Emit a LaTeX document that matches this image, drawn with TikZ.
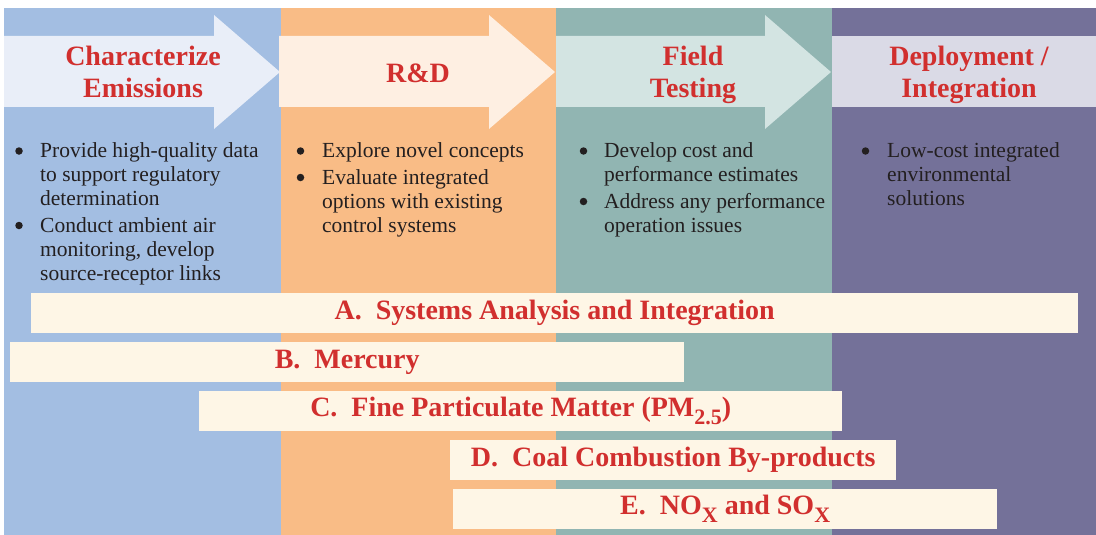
\documentclass[tikz,border=0pt]{standalone}
\usepackage{fontspec}
\setmainfont{Liberation Serif}
\definecolor{cblue}{HTML}{A3BEE2}
\definecolor{ablue}{HTML}{E9EEF8}
\definecolor{corange}{HTML}{F9BC86}
\definecolor{aorange}{HTML}{FEEFE2}
\definecolor{cteal}{HTML}{91B5B2}
\definecolor{ateal}{HTML}{D3E4E2}
\definecolor{cpurple}{HTML}{747199}
\definecolor{apurple}{HTML}{DADAE6}
\definecolor{barfill}{HTML}{FEF6E6}
\definecolor{tred}{HTML}{D12F2E}
\definecolor{tgray}{HTML}{231F20}
\newcommand{\subx}[1]{\raisebox{-8pt}{\fontsize{22}{22}\selectfont #1}}
\begin{document}
\begin{tikzpicture}[x=1pt,y=-1pt,
  colbox/.style={inner sep=0, outer sep=0, anchor=north west},
  ttl/.style={font=\fontsize{28}{32}\selectfont\bfseries, text=tred, anchor=base, inner sep=0},
  barbox/.style={fill=barfill, font=\fontsize{28}{32}\selectfont\bfseries, text=tred, inner sep=0, anchor=north west, minimum height=40pt},
  bul/.style={font=\fontsize{21.5}{24.2}\selectfont, text=tgray, anchor=base west, inner sep=0},
  dot/.style={circle, fill=tgray, inner sep=0, minimum size=7.5pt},
]
\useasboundingbox (0,0) rectangle (1096,535);
% columns
\node[colbox, fill=cblue, minimum width=277pt, minimum height=527pt] (c1) at (4,8) {};
\node[colbox, fill=corange, minimum width=275pt, minimum height=527pt] (c2) at (281,8) {};
\node[colbox, fill=cteal, minimum width=276pt, minimum height=527pt] (c3) at (556,8) {};
\node[colbox, fill=cpurple, minimum width=264pt, minimum height=527pt] (c4) at (832,8) {};
% arrows
\fill[ablue] (4,36) -- (214,36) -- (214,15) -- (280,72) -- (214,129) -- (214,107) -- (4,107) -- cycle;
\fill[aorange] (279,36) -- (489,36) -- (489,15) -- (555,72) -- (489,129) -- (489,107) -- (279,107) -- cycle;
\fill[ateal] (556,36) -- (765,36) -- (765,15) -- (831,72) -- (765,129) -- (765,107) -- (556,107) -- cycle;
\fill[apurple] (832,36) rectangle (1096,107);
% titles
\node[ttl] (t1a) at (143,66) {Characterize};
\node[ttl] (t1b) at (143,98) {Emissions};
\node[ttl] (t2) at (418,82) {R\&D};
\node[ttl] (t3a) at (693,66) {Field};
\node[ttl] (t3b) at (693,98) {Testing};
\node[ttl] (t4a) at (969,66) {Deployment /};
\node[ttl] (t4b) at (969,98) {Integration};
% bullets column 1
\node[dot] (b11) at (19,151) {};
\node[bul] (i11) at (40,157.5) {\begin{tabular}[t]{@{}l@{}}Provide high-quality data\\to support regulatory\\determination\end{tabular}};
\node[dot] (b12) at (19,225.5) {};
\node[bul] (i12) at (40,232) {\begin{tabular}[t]{@{}l@{}}Conduct ambient air\\monitoring, develop\\source-receptor links\end{tabular}};
% bullets column 2
\node[dot] (b21) at (300.5,151) {};
\node[bul] (i21) at (322,157.5) {Explore novel concepts};
\node[dot] (b22) at (300.5,177.5) {};
\node[bul] (i22) at (322,184) {\begin{tabular}[t]{@{}l@{}}Evaluate integrated\\options with existing\\control systems\end{tabular}};
% bullets column 3
\node[dot] (b31) at (583.5,151) {};
\node[bul] (i31) at (604,157.5) {\begin{tabular}[t]{@{}l@{}}Develop cost and\\performance estimates\end{tabular}};
\node[dot] (b32) at (583.5,201.5) {};
\node[bul] (i32) at (604,208) {\begin{tabular}[t]{@{}l@{}}Address any performance\\operation issues\end{tabular}};
% bullets column 4
\node[dot] (b41) at (865.5,151) {};
\node[bul] (i41) at (887,157.5) {\begin{tabular}[t]{@{}l@{}}Low-cost integrated\\environmental\\solutions\end{tabular}};
% bars
\node[barbox, minimum width=1047pt] (bA) at (31,293) {A.\ \ Systems Analysis and Integration};
\node[barbox, minimum width=674pt] (bB) at (10,342) {B.\ \ Mercury};
\node[barbox, minimum width=643pt] (bC) at (199,391) {C.\ \ Fine Particulate Matter (PM\subx{2.5})};
\node[barbox, minimum width=446pt] (bD) at (450,440) {D.\ \ Coal Combustion By-products};
\node[barbox, minimum width=544pt] (bE) at (453,489) {E.\ \ NO\subx{X} and SO\subx{X}};
\end{tikzpicture}
\end{document}
